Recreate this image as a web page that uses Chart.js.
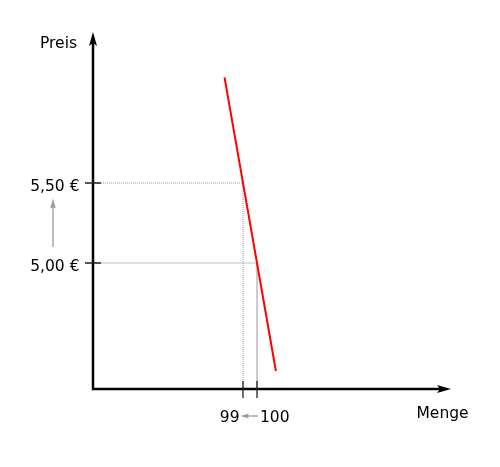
<!DOCTYPE html>
<html>
<head>
<meta charset="utf-8">
<script src="https://cdn.jsdelivr.net/npm/chart.js@4"></script>
<style>
  body { margin: 0; background: #fff; }
  canvas { display: block; }
</style>
</head>
<body>
<canvas id="Demand_Chart" width="500" height="467"></canvas>
<script>
// Nachfragekurve: Menge / Preis
const demandQty = [97.68, 101.35];
const demandPrice = [6.16, 4.325];

// markierte Punkte auf der Kurve
const markQty = [99, 100];
const markPrice = [5.5, 5.0];

// Achsenbeschriftungen
const xTickLabels = ['99', '100'];
const yTickLabels = ['5,50 €', '5,00 €'];
const xTitle = 'Menge';
const yTitle = 'Preis';

// Achsenbereich
const X_MIN = 88.2857, X_MAX = 113.7857;
const Y_MIN = 4.2125, Y_MAX = 6.4375;

const FONT = '15.5px "DejaVu Sans", sans-serif';

function arrowHead(ctx, tipX, tipY, dirX, dirY, len, half, notch) {
    // dir = Richtung der Spitze
    const px = -dirY, py = dirX;
    const bx = tipX - dirX * len, by = tipY - dirY * len;
    ctx.beginPath();
    ctx.moveTo(tipX, tipY);
    ctx.lineTo(bx + px * half, by + py * half);
    ctx.lineTo(tipX - dirX * (len - notch), tipY - dirY * (len - notch));
    ctx.lineTo(bx - px * half, by - py * half);
    ctx.closePath();
    ctx.fill();
}

const axesPlugin = {
    id: 'axesPlugin',
    afterDraw(chart) {
        const ctx = chart.ctx;
        const xs = chart.scales.x, ys = chart.scales.y;
        const x0 = xs.getPixelForValue(X_MIN);
        const y0 = ys.getPixelForValue(Y_MIN);
        ctx.save();

        // Achsen
        ctx.strokeStyle = '#000';
        ctx.fillStyle = '#000';
        ctx.lineWidth = 2.5;
        ctx.beginPath();
        ctx.moveTo(x0 - 1.2, y0);
        ctx.lineTo(xs.getPixelForValue(X_MAX) - 10, y0);
        ctx.moveTo(x0, y0 + 1.2);
        ctx.lineTo(x0, ys.getPixelForValue(Y_MAX) + 10);
        ctx.stroke();
        arrowHead(ctx, xs.getPixelForValue(X_MAX) + 1, y0, 1, 0, 14, 4, 3);
        arrowHead(ctx, x0, ys.getPixelForValue(Y_MAX) - 1, 0, -1, 14, 4, 3);

        // Striche
        ctx.lineWidth = 1.3;
        ctx.strokeStyle = '#222';
        ctx.beginPath();
        markPrice.forEach(p => {
            const y = ys.getPixelForValue(p);
            ctx.moveTo(x0 - 8, y);
            ctx.lineTo(x0 + 8, y);
        });
        markQty.forEach(q => {
            const x = xs.getPixelForValue(q);
            ctx.moveTo(x, y0 - 8);
            ctx.lineTo(x, y0 + 9);
        });
        ctx.stroke();

        // Beschriftung
        ctx.font = FONT;
        ctx.fillStyle = '#000';
        ctx.textBaseline = 'alphabetic';
        ctx.textAlign = 'right';
        markPrice.forEach((p, i) => {
            ctx.fillText(yTickLabels[i], x0 - 13.5, ys.getPixelForValue(p) + 7.6);
        });
        ctx.fillText(xTickLabels[0], xs.getPixelForValue(markQty[0]) - 3.5, y0 + 32.6);
        ctx.textAlign = 'left';
        ctx.fillText(xTickLabels[1], xs.getPixelForValue(markQty[1]) + 3, y0 + 32.6);
        ctx.fillText(yTitle, x0 - 53, 48.3);
        ctx.fillText(xTitle, xs.getPixelForValue(X_MAX) - 33.5, y0 + 28.6);

        // graue Pfeile
        ctx.strokeStyle = '#999';
        ctx.fillStyle = '#999';
        ctx.lineWidth = 1.3;
        const ax = x0 - 40;
        const aTop = ys.getPixelForValue(markPrice[0]) + 15.5;
        const aBot = ys.getPixelForValue(markPrice[1]) - 16;
        ctx.beginPath();
        ctx.moveTo(ax, aBot);
        ctx.lineTo(ax, aTop + 8);
        ctx.stroke();
        arrowHead(ctx, ax, aTop, 0, -1, 10, 2.8, 1.5);

        const hy = y0 + 27;
        const hL = xs.getPixelForValue(markQty[0]) - 2.5;
        const hR = xs.getPixelForValue(markQty[1]) + 1;
        ctx.beginPath();
        ctx.moveTo(hR, hy);
        ctx.lineTo(hL + 7, hy);
        ctx.stroke();
        arrowHead(ctx, hL, hy, -1, 0, 8.5, 2.6, 1.5);

        ctx.restore();
    }
};

const ctx = document.getElementById('Demand_Chart').getContext('2d');
const DemandChartInstance = new Chart(ctx, {
    type: 'scatter',
    data: {
        datasets: [{
            label: 'Nachfrage',
            data: demandQty.map((q, i) => ({ x: q, y: demandPrice[i] })),
            showLine: true,
            borderColor: '#ff0000',
            borderWidth: 2,
            pointRadius: 0,
            order: 0
        }, {
            label: 'Hilfslinie 5,50',
            data: [{ x: X_MIN, y: markPrice[0] }, { x: markQty[0], y: markPrice[0] }, { x: markQty[0], y: Y_MIN }],
            showLine: true,
            borderColor: '#999',
            borderWidth: 1,
            borderDash: [1, 1],
            pointRadius: 0,
            order: 1
        }, {
            label: 'Hilfslinie 5,00',
            data: [{ x: X_MIN, y: markPrice[1] }, { x: markQty[1], y: markPrice[1] }, { x: markQty[1], y: Y_MIN }],
            showLine: true,
            borderColor: '#c4c4c4',
            borderWidth: 1,
            pointRadius: 0,
            order: 2
        }]
    },
    options: {
        responsive: false,
        animation: false,
        layout: { padding: { left: 93, top: 33, right: 50, bottom: 78 } },
        plugins: {
            legend: { display: false },
            tooltip: { enabled: false }
        },
        scales: {
            x: { type: 'linear', min: X_MIN, max: X_MAX, display: false },
            y: { type: 'linear', min: Y_MIN, max: Y_MAX, display: false }
        }
    },
    plugins: [axesPlugin]
});
</script>
</body>
</html>
